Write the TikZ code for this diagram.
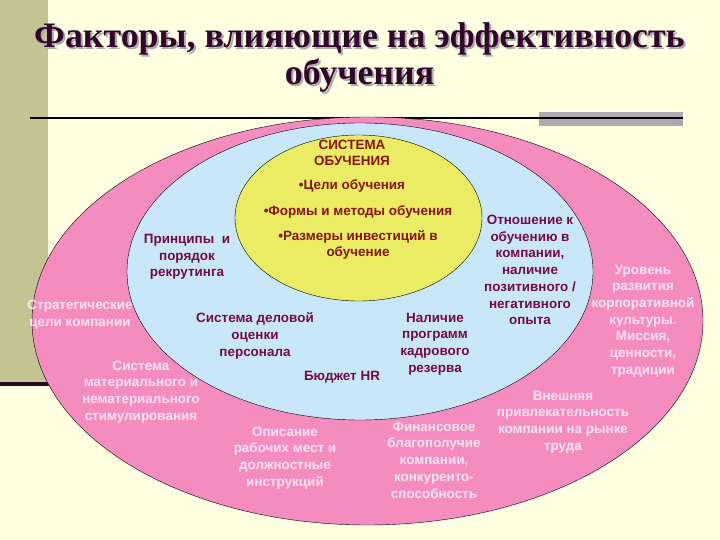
\documentclass[tikz,border=0pt]{standalone}
\usepackage{fontspec}
\setmainfont{Liberation Sans}
\newfontfamily\titlefont{Liberation Serif}
\definecolor{cream}{RGB}{255,255,225}
\definecolor{olive}{RGB}{196,196,146}
\definecolor{barline}{RGB}{45,10,35}
\definecolor{greybar}{RGB}{176,170,176}
\definecolor{outerpink}{RGB}{245,140,192}
\definecolor{midblue}{RGB}{200,232,250}
\definecolor{coreyellow}{RGB}{234,236,100}
\definecolor{titleink}{RGB}{50,5,45}
\definecolor{coreink}{RGB}{135,20,10}
\definecolor{midink}{RGB}{115,10,70}
\definecolor{outerink}{RGB}{255,228,240}

\begin{document}
\begin{tikzpicture}[
        x=1bp, y=-1bp,
        label/.style={font=\bfseries\fontsize{13.5}{16.8}\selectfont, align=center, inner sep=0pt},
        coretext/.style={label, text=coreink},
        midtext/.style={label, text=midink},
        outertext/.style={label, text=outerink},
        heading/.style={font=\titlefont\bfseries\fontsize{36}{38}\selectfont, align=center, inner sep=0pt} ]

    \useasboundingbox (0,0) rectangle (720,540);
    \fill[cream] (0,0) rectangle (720,540);

    % side bar and rule
    \fill[olive] (0,0) rectangle (48,382);
    \fill[barline] (0,382) rectangle (60,386);
    \fill[greybar] (539,112) rectangle (683,126);
    \draw[black, line width=2.2bp] (30,118) -- (683,118);

    % title
    \node[heading, text=gray!65] (titleshadow) at (361.5,59.5) {Факторы, влияющие на эффективность\\обучения};
    \node[heading, text=titleink] (title) at (359.5,57.5) {Факторы, влияющие на эффективность\\обучения};

    % the three rings
    \filldraw[draw=black, fill=outerpink, thin] (367.5,321) ellipse [x radius=335.5, y radius=204];
    \filldraw[draw=black, fill=midblue, thin] (360,271.5) ellipse [x radius=233, y radius=148.5];
    \filldraw[draw=black, fill=coreyellow, thin] (358.5,218) ellipse [x radius=123.5, y radius=83];

    % core
    \node[coretext] (system) at (352,153) {СИСТЕМА\\ОБУЧЕНИЯ};
    \node[coretext] (goals) at (352,186) {•Цели обучения};
    \node[coretext] (forms) at (358,212) {•Формы и методы обучения};
    \node[coretext] (invest) at (358,245) {•Размеры инвестиций в\\обучение};

    % middle ring
    \node[midtext] (recruit) at (187,257) {Принципы\ \ и\\порядок\\рекрутинга};
    \node[midtext] (appraisal) at (255,336) {Система деловой\\оценки\\персонала};
    \node[midtext] (budget) at (342,377) {Бюджет HR};
    \node[midtext] (reserve) at (435,344) {Наличие\\программ\\кадрового\\резерва};
    \node[midtext] (attitude) at (530,270) {Отношение к\\обучению в\\компании,\\наличие\\позитивного /\\негативного\\опыта};

    % outer ring
    \node[outertext] (strategy) at (80,315) {Стратегические\\цели компании};
    \node[outertext] (reward) at (141,392) {Система\\материального и\\нематериального\\стимулирования};
    \node[outertext] (jobdesc) at (285,458) {Описание\\рабочих мест и\\должностные\\инструкций};
    \node[outertext] (finance) at (434,460) {Финансовое\\благополучие\\компании,\\конкуренто-\\способность};
    \node[outertext] (brand) at (563,422) {Внешняя\\привлекательность\\компании на рынке\\труда};
    \node[outertext] (culture) at (643,321) {Уровень\\развития\\корпоративной\\культуры.\\Миссия,\\ценности,\\традиции};

\end{tikzpicture}
\end{document}
